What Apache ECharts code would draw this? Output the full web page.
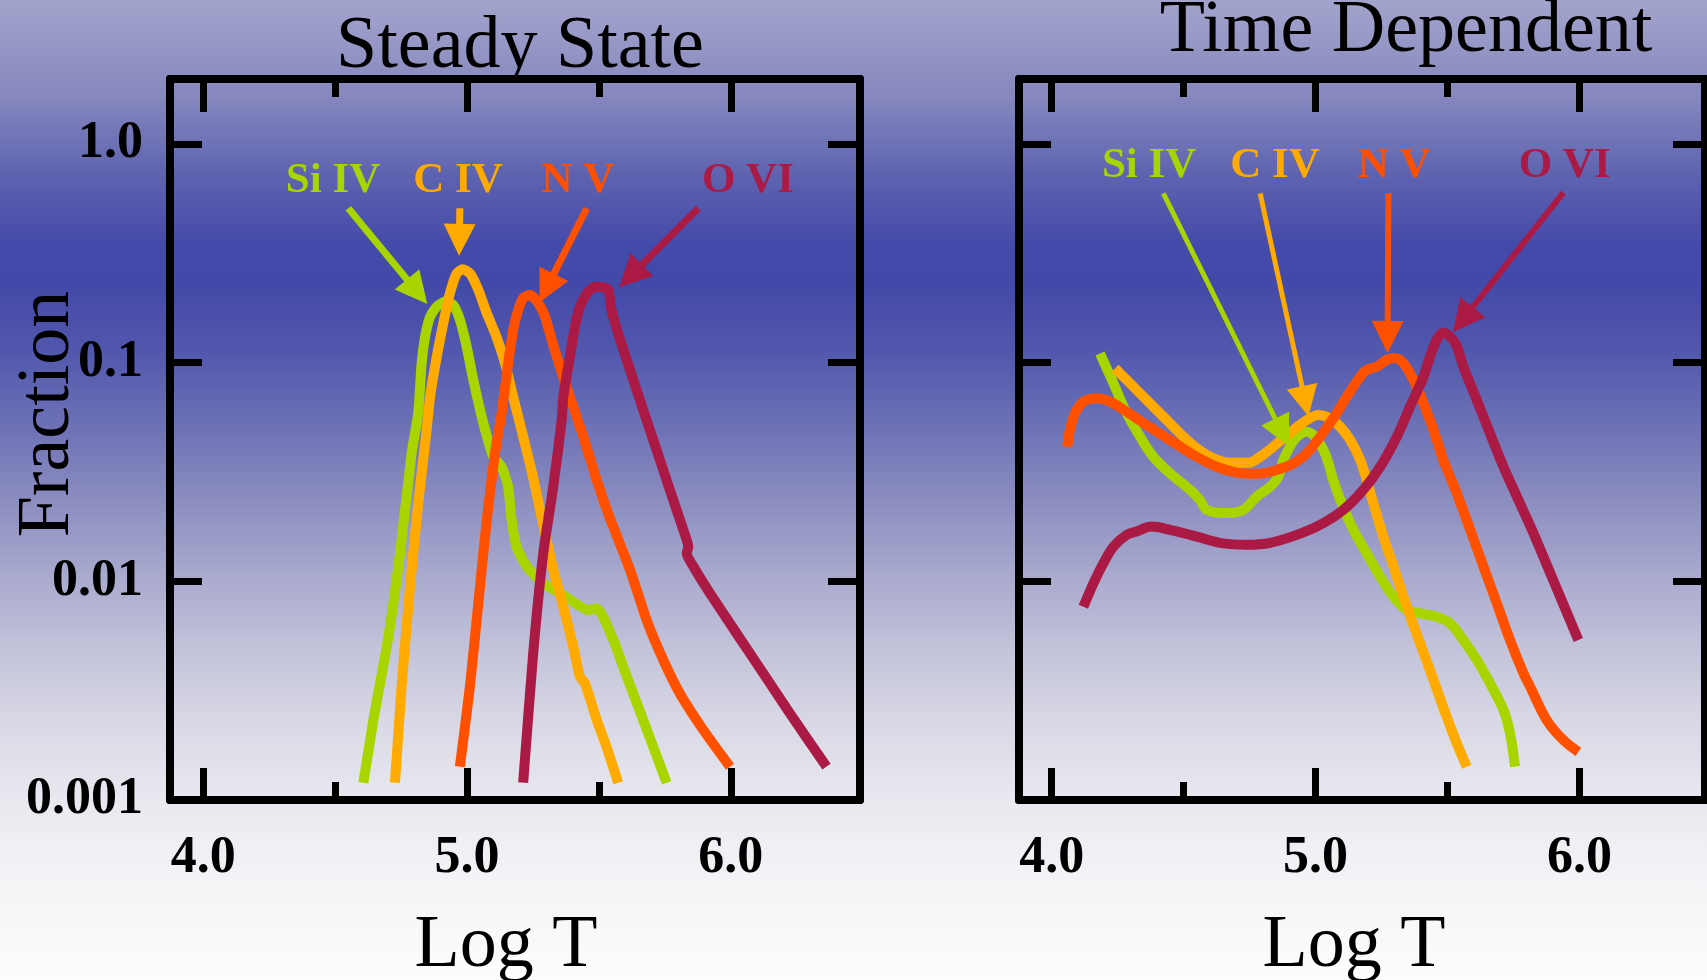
<!DOCTYPE html>
<html><head><meta charset="utf-8">
<script src="https://cdn.jsdelivr.net/npm/echarts@6/dist/echarts.min.js"></script>
<style>html,body{margin:0;padding:0;width:1707px;height:980px;overflow:hidden;background:#fff}#c{width:1707px;height:980px}</style>
</head><body><div id="c"></div>
<script>
// ---------- text / categories ----------
const ionNames = ['Si IV', 'C IV', 'N V', 'O VI'];
const panelTitles = ['Steady State', 'Time Dependent'];
const xAxisTitle = 'Log T';
const yAxisTitle = 'Fraction';
const xMajorTicks = [4, 5, 6];
const xMinorTicks = [4.5, 5.5];
const xTickLabels = ['4.0', '5.0', '6.0'];
const yTicks = [0.001, 0.01, 0.1, 1];
const yTickLabels = ['0.001', '0.01', '0.1', '1.0'];

// ---------- Steady State: [log T, fraction] ----------
const ssSiIV = [[4.607,0.00120],[4.645,0.00232],[4.702,0.00558],[4.746,0.0134],[4.790,0.0385],[4.815,0.0586],[4.828,0.0993],[4.841,0.131],[4.860,0.162],[4.885,0.180],[4.917,0.190],[4.948,0.183],[4.973,0.157],[4.999,0.118],[5.024,0.0832],[5.062,0.0528],[5.100,0.0371],[5.131,0.0334],[5.156,0.0271],[5.169,0.0191],[5.188,0.0144],[5.226,0.0117],[5.289,0.00979],[5.365,0.00866],[5.460,0.00739],[5.492,0.00752],[5.555,0.00539],[5.592,0.00407],[5.668,0.00232],[5.757,0.00120]];
const ssCIV = [[4.727,0.00120],[4.752,0.00330],[4.784,0.00945],[4.815,0.0227],[4.847,0.0492],[4.860,0.0698],[4.885,0.106],[4.910,0.151],[4.935,0.207],[4.961,0.256],[4.984,0.267],[5.011,0.256],[5.043,0.215],[5.075,0.168],[5.112,0.131],[5.144,0.0993],[5.175,0.0698],[5.213,0.0458],[5.251,0.0297],[5.289,0.0181],[5.327,0.0113],[5.365,0.00765],[5.403,0.00502],[5.428,0.00366],[5.447,0.00342],[5.492,0.00232],[5.529,0.00175],[5.573,0.00120]];
const ssNV = [[4.973,0.00142],[5.011,0.00330],[5.043,0.00793],[5.075,0.0191],[5.106,0.0385],[5.131,0.0586],[5.156,0.0993],[5.175,0.141],[5.194,0.174],[5.213,0.197],[5.239,0.204],[5.270,0.187],[5.296,0.162],[5.321,0.127],[5.352,0.0958],[5.390,0.0698],[5.441,0.0458],[5.492,0.0290],[5.542,0.0194],[5.618,0.0113],[5.681,0.00665],[5.744,0.00437],[5.807,0.00307],[5.896,0.00209],[5.997,0.00142]];
const ssOVI = [[5.213,0.00120],[5.251,0.00469],[5.289,0.0134],[5.327,0.0271],[5.359,0.0546],[5.365,0.0698],[5.390,0.106],[5.409,0.146],[5.428,0.180],[5.454,0.207],[5.485,0.222],[5.517,0.221],[5.536,0.215],[5.548,0.174],[5.573,0.136],[5.618,0.0925],[5.668,0.0607],[5.719,0.0398],[5.769,0.0262],[5.820,0.0172],[5.839,0.0144],[5.833,0.0134],[5.858,0.0117],[5.921,0.00882],[6.022,0.00578],[6.123,0.00380],[6.224,0.00249],[6.363,0.00142]];

// ---------- Time Dependent: [log T, fraction] ----------
const tdSiIV = [[4.183,0.110],[4.234,0.0804],[4.284,0.0586],[4.335,0.0458],[4.385,0.0371],[4.448,0.0312],[4.524,0.0262],[4.562,0.0235],[4.588,0.0212],[4.663,0.0205],[4.726,0.0212],[4.777,0.0244],[4.828,0.0271],[4.859,0.0301],[4.878,0.0359],[4.903,0.0413],[4.929,0.0458],[4.967,0.0483],[4.998,0.0458],[5.030,0.0398],[5.049,0.0346],[5.067,0.0290],[5.099,0.0227],[5.143,0.0172],[5.194,0.0134],[5.245,0.0105],[5.295,0.00850],[5.346,0.00739],[5.396,0.00714],[5.459,0.00689],[5.510,0.00643],[5.560,0.00539],[5.611,0.00437],[5.661,0.00342],[5.712,0.00258],[5.737,0.00202],[5.756,0.00142]];
const tdCIV = [[4.240,0.0941],[4.297,0.0804],[4.360,0.0674],[4.423,0.0566],[4.486,0.0475],[4.550,0.0406],[4.613,0.0365],[4.676,0.0348],[4.745,0.0348],[4.790,0.0371],[4.840,0.0413],[4.878,0.0451],[4.916,0.0492],[4.967,0.0546],[5.011,0.0576],[5.055,0.0556],[5.093,0.0509],[5.131,0.0443],[5.169,0.0359],[5.194,0.0290],[5.219,0.0227],[5.257,0.0160],[5.295,0.0117],[5.346,0.00765],[5.396,0.00521],[5.447,0.00354],[5.497,0.00240],[5.535,0.00182],[5.573,0.00142]];
const tdNV = [[4.059,0.0413],[4.069,0.0492],[4.088,0.0586],[4.120,0.0663],[4.171,0.0687],[4.221,0.0663],[4.284,0.0596],[4.360,0.0518],[4.448,0.0443],[4.537,0.0378],[4.625,0.0334],[4.701,0.0314],[4.777,0.0310],[4.853,0.0323],[4.916,0.0346],[4.967,0.0385],[5.017,0.0458],[5.067,0.0556],[5.118,0.0698],[5.169,0.0862],[5.194,0.0925],[5.232,0.0958],[5.270,0.103],[5.301,0.105],[5.333,0.0993],[5.371,0.0832],[5.409,0.0651],[5.447,0.0492],[5.484,0.0359],[5.535,0.0253],[5.586,0.0172],[5.636,0.0117],[5.687,0.00793],[5.737,0.00539],[5.788,0.00380],[5.813,0.00330],[5.876,0.00232],[5.939,0.00188],[5.996,0.00166]];
const tdOVI = [[4.120,0.00765],[4.158,0.00979],[4.196,0.0121],[4.234,0.0144],[4.284,0.0163],[4.322,0.0169],[4.379,0.0178],[4.448,0.0172],[4.550,0.0160],[4.650,0.0149],[4.739,0.0147],[4.828,0.0150],[4.929,0.0163],[5.017,0.0181],[5.105,0.0212],[5.181,0.0262],[5.245,0.0334],[5.308,0.0458],[5.358,0.0629],[5.409,0.0862],[5.447,0.118],[5.484,0.137],[5.529,0.123],[5.560,0.0958],[5.611,0.0674],[5.661,0.0475],[5.712,0.0334],[5.763,0.0244],[5.820,0.0172],[5.901,0.0101],[5.996,0.00539]];

// ---------- annotations (data coordinates) ----------
const ssLabelAt = [[4.492,0.675],[4.966,0.675],[5.421,0.675],[6.065,0.675]];
const ssArrowFrom = [[4.550,0.508],[4.973,0.508],[5.454,0.508],[5.877,0.508]];
const ssArrowTo = [[4.811,0.211],[4.971,0.364],[5.302,0.219],[5.620,0.249]];
const tdLabelAt = [[4.369,0.79],[4.846,0.79],[5.298,0.79],[5.944,0.79]];
const tdArrowFrom = [[4.423,0.594],[4.790,0.594],[5.276,0.594],[5.939,0.598]];
const tdArrowTo = [[4.873,0.0479],[4.961,0.0665],[5.273,0.131],[5.558,0.157]];

// ---------- styling ----------
const ionColors = ['#a8d400', '#ffaa00', '#ff5000', '#aa1a45'];
const serif = '"Liberation Serif", "Times New Roman", serif';
const ssArrowWidths = [7, 7, 7, 7];
const tdArrowWidths = [5, 5, 6, 6];
const tdArrowHeads = [31, 31, 32, 32];

const panels = [
  { grid: { left: 170, top: 79, width: 690, height: 721 }, xMin: 3.874, xMax: 6.49, yLabels: true,
    series: [ssSiIV, ssCIV, ssNV, ssOVI], lw: 10, smooth: 0.2,
    labelAt: ssLabelAt, from: ssArrowFrom, to: ssArrowTo, aw: ssArrowWidths, ah: [32, 32, 32, 32] },
  { grid: { left: 1019, top: 79, width: 686, height: 721 }, xMin: 3.876, xMax: 6.476, yLabels: false,
    series: [tdSiIV, tdCIV, tdNV, tdOVI], lw: 10, smooth: 0.35,
    labelAt: tdLabelAt, from: tdArrowFrom, to: tdArrowTo, aw: tdArrowWidths, ah: tdArrowHeads }
];

const black = '#000';
const frameW = 8;
const xAxes = [], yAxes = [], grids = [], series = [];
panels.forEach((p, g) => {
  grids.push(Object.assign({ outerBoundsMode: 'none', containLabel: false }, p.grid));
  const base = { type: 'value', gridIndex: g, min: p.xMin, max: p.xMax, splitLine: { show: false } };
  const lineOn = { show: true, lineStyle: { color: black, width: frameW } };
  const tickStyle = { color: black, width: 7 };
  xAxes.push(Object.assign({}, base, { position: 'bottom', axisLine: lineOn,
    axisTick: { show: true, inside: true, length: 32, customValues: xMajorTicks, lineStyle: tickStyle },
    axisLabel: { show: true, customValues: xMajorTicks, margin: 33, color: black, fontFamily: serif, fontWeight: 'bold', fontSize: 52,
      formatter: v => { const i = xMajorTicks.findIndex(t => Math.abs(t - v) < 1e-6); return i >= 0 ? xTickLabels[i] : ''; } } }));
  xAxes.push(Object.assign({}, base, { position: 'bottom', axisLine: { show: false },
    axisTick: { show: true, inside: true, length: 18, customValues: xMinorTicks, lineStyle: tickStyle },
    axisLabel: { show: false } }));
  xAxes.push(Object.assign({}, base, { position: 'top', axisLine: lineOn,
    axisTick: { show: true, inside: true, length: 33, customValues: xMajorTicks, lineStyle: tickStyle },
    axisLabel: { show: false } }));
  xAxes.push(Object.assign({}, base, { position: 'top', axisLine: { show: false },
    axisTick: { show: true, inside: true, length: 18, customValues: xMinorTicks, lineStyle: tickStyle },
    axisLabel: { show: false } }));
  const ybase = { type: 'log', logBase: 10, gridIndex: g, min: 0.001, max: 1.98, splitLine: { show: false } };
  yAxes.push(Object.assign({}, ybase, { position: 'left', axisLine: lineOn,
    axisTick: { show: true, inside: true, length: 32, customValues: [0.01, 0.1, 1], lineStyle: tickStyle },
    axisLabel: { show: p.yLabels, customValues: yTicks, margin: 27, color: black, fontFamily: serif, fontWeight: 'bold', fontSize: 52,
      formatter: v => { const i = yTicks.findIndex(t => Math.abs(Math.log10(t) - Math.log10(v)) < 1e-4); return i >= 0 ? yTickLabels[i] : ''; } } }));
  yAxes.push(Object.assign({}, ybase, { position: 'right', axisLine: lineOn,
    axisTick: { show: true, inside: true, length: 32, customValues: [0.01, 0.1, 1], lineStyle: tickStyle },
    axisLabel: { show: false } }));

  const xi = g * 4, yi = g * 2;
  p.series.forEach((d, i) => {
    series.push({ type: 'line', name: ionNames[i] + ' ' + g, xAxisIndex: xi, yAxisIndex: yi, data: d,
      showSymbol: false, symbol: 'none', smooth: p.smooth, silent: true, z: 2 + i,
      lineStyle: { color: ionColors[i], width: p.lw, join: 'round', cap: 'butt' } });
  });
  series.push({ type: 'line', name: 'annot' + g, xAxisIndex: xi, yAxisIndex: yi, data: [], z: 20, silent: true,
    markLine: { silent: true, animation: false, symbol: ['none', 'triangle'], symbolSize: [0, 30],
      label: { show: false }, emphasis: { disabled: true },
      data: p.from.map((f, i) => [
        { coord: f, symbol: 'none', lineStyle: { color: ionColors[i], width: p.aw[i], type: 'solid', opacity: 1 }, itemStyle: { color: ionColors[i] } },
        { coord: p.to[i], symbol: 'triangle', symbolSize: p.ah[i], lineStyle: { color: ionColors[i], width: p.aw[i], type: 'solid', opacity: 1 }, itemStyle: { color: ionColors[i] } }
      ]) },
    markPoint: { silent: true, animation: false, symbol: 'circle', symbolSize: 1, itemStyle: { color: 'rgba(0,0,0,0)' },
      label: { show: true, position: 'inside', fontFamily: serif, fontWeight: 'bold', fontSize: 43, formatter: q => q.name },
      data: p.labelAt.map((c, i) => ({ name: ionNames[i], coord: c, label: { color: ionColors[i] } })) }
  });
});

const chart = echarts.init(document.getElementById('c'), null, { renderer: 'canvas' });
chart.setOption({
  animation: false,
  backgroundColor: new echarts.graphic.LinearGradient(0, 0, 0, 1, [
    { offset: 0.00, color: '#a3a4cc' }, { offset: 0.10, color: '#8587bd' }, { offset: 0.18, color: '#5d62b0' },
    { offset: 0.25, color: '#444aa9' }, { offset: 0.29, color: '#4349a8' }, { offset: 0.36, color: '#5258ad' },
    { offset: 0.44, color: '#6f73b6' }, { offset: 0.51, color: '#8b8dc0' }, { offset: 0.58, color: '#a6a7cc' },
    { offset: 0.66, color: '#c2c2da' }, { offset: 0.74, color: '#d9d9e6' }, { offset: 0.82, color: '#e9e9f0' },
    { offset: 0.90, color: '#f4f4f7' }, { offset: 1.00, color: '#fdfdfe' }
  ]),
  grid: grids, xAxis: xAxes, yAxis: yAxes, series: series,
  graphic: [
    { type: 'text', x: 520, y: 48, silent: true, style: { text: panelTitles[0], fontFamily: serif, fontSize: 74, fill: black, align: 'center', verticalAlign: 'middle' } },
    { type: 'text', x: 1406, y: 32, silent: true, style: { text: panelTitles[1], fontFamily: serif, fontSize: 74, fill: black, align: 'center', verticalAlign: 'middle' } },
    { type: 'text', x: 506, y: 947, silent: true, style: { text: xAxisTitle, fontFamily: serif, fontSize: 74, fill: black, align: 'center', verticalAlign: 'middle' } },
    { type: 'text', x: 1354, y: 947, silent: true, style: { text: xAxisTitle, fontFamily: serif, fontSize: 74, fill: black, align: 'center', verticalAlign: 'middle' } },
    { type: 'text', x: 49, y: 414, rotation: Math.PI / 2, silent: true, style: { text: yAxisTitle, fontFamily: serif, fontSize: 74, fill: black, align: 'center', verticalAlign: 'middle' } }
  ]
});
</script></body></html>
